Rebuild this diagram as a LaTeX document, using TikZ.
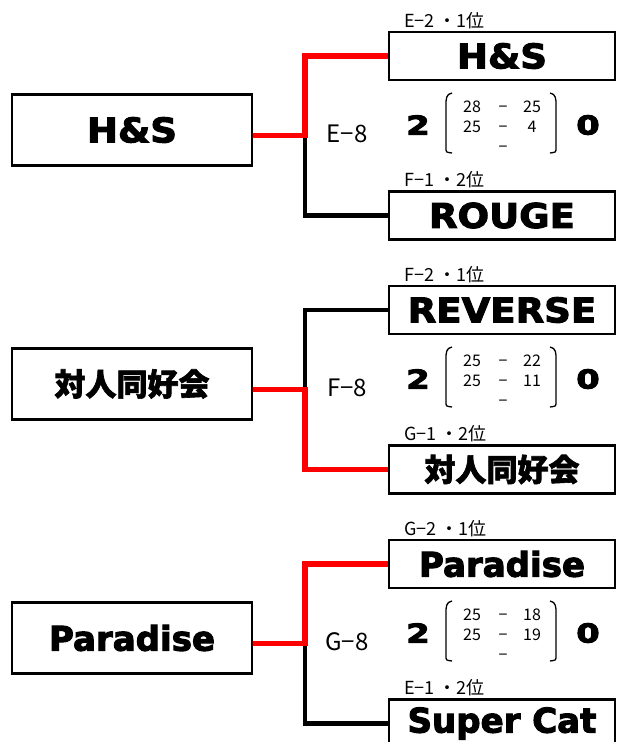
\documentclass[tikz,border=0pt]{standalone}
\usepackage{fontspec}
\setmainfont{Noto Sans CJK JP}
\newfontfamily\namefont[FakeBold=3]{DejaVu Sans Bold}
\newfontfamily\capsfont[FakeBold=3,FakeStretch=1.09]{DejaVu Sans Bold}
\newfontfamily\setfont[FakeBold=4,FakeStretch=1.3]{DejaVu Sans Bold}
\newfontfamily\jpfont[BoldFeatures={FakeBold=2}]{Noto Sans CJK JP}
\usetikzlibrary{calc}

\begin{document}
\begin{tikzpicture}[x=1pt,y=-1pt,
  team/.style={draw,line width=2.8pt,inner sep=0pt,font=\namefont\fontsize{34}{34}\selectfont},
  caps/.style={font=\capsfont\fontsize{34}{34}\selectfont},
  seed/.style={team,minimum width=240pt,minimum height=71pt},
  entry/.style={team,minimum width=226pt,minimum height=48pt},
  jpname/.style={font=\jpfont\bfseries\fontsize{31}{31}\selectfont},
  winline/.style={red,line width=5.5pt},
  loseline/.style={black,line width=4.5pt},
  tag/.style={anchor=base west,inner sep=0pt,font=\fontsize{18}{18}\selectfont},
  court/.style={font=\fontsize{24}{24}\selectfont},
  sets/.style={font=\setfont\fontsize{26}{26}\selectfont},
  rally/.style={anchor=base,inner sep=0pt,font=\fontsize{16}{16}\selectfont},
  paren/.style={line width=1.3pt}]
\useasboundingbox (0,0) rectangle (622,742);

\node[seed,caps] (hsL) at (132,130) {H\&S};
\node[entry,caps] (hsR) at (502,56) {H\&S};
\node[entry,caps] (rouge) at (502,215.5) {ROUGE};
\coordinate (jE) at (305,135.5);
\draw[loseline] (jE) |- (rouge.west);
\draw[winline] (hsL.east |- jE) -- (jE) |- (hsR.west);
\node[tag] (tE2) at (404,27) {E−2 ・1位};
\node[tag] (tF1) at (404,186) {F−1 ・2位};
\node[court] (cE8) at (347,134) {E−8};
\node[sets] (wE) at (418,125) {2};
\node[sets] (lE) at (588,125) {0};
\draw[paren] (452,93) .. controls (446,94) and (446,99) .. (446,105) -- (446,147) .. controls (446,153) and (446,152) .. (452,153);
\draw[paren] (550,93) .. controls (556,94) and (556,99) .. (556,105) -- (556,147) .. controls (556,153) and (556,152) .. (550,153);
\node[rally] (e1a) at (472,112) {28}; \node[rally] (e1m) at (503,112) {−}; \node[rally] (e1b) at (532,112) {25};
\node[rally] (e2a) at (472,132) {25}; \node[rally] (e2m) at (503,132) {−}; \node[rally] (e2b) at (532,132) {4};
\node[rally] (e3m) at (503,152) {−};

\node[seed,jpname] (taiL) at (132,384) {対人同好会};
\node[entry,caps] (rev) at (502,310) {REVERSE};
\node[entry,jpname] (taiR) at (502,469.5) {対人同好会};
\coordinate (jF) at (305,389.5);
\draw[loseline] (jF) |- (rev.west);
\draw[winline] (taiL.east |- jF) -- (jF) |- (taiR.west);
\node[tag] (tF2) at (404,281) {F−2 ・1位};
\node[tag] (tG1) at (404,440) {G−1 ・2位};
\node[court] (cF8) at (347,388) {F−8};
\node[sets] (wF) at (418,379) {2};
\node[sets] (lF) at (588,379) {0};
\draw[paren] (452,347) .. controls (446,348) and (446,353) .. (446,359) -- (446,401) .. controls (446,407) and (446,406) .. (452,407);
\draw[paren] (550,347) .. controls (556,348) and (556,353) .. (556,359) -- (556,401) .. controls (556,407) and (556,406) .. (550,407);
\node[rally] (f1a) at (472,366) {25}; \node[rally] (f1m) at (503,366) {−}; \node[rally] (f1b) at (532,366) {22};
\node[rally] (f2a) at (472,386) {25}; \node[rally] (f2m) at (503,386) {−}; \node[rally] (f2b) at (532,386) {11};
\node[rally] (f3m) at (503,406) {−};

\node[seed] (parL) at (132,638) {Paradise};
\node[entry] (parR) at (502,564) {Paradise};
\node[entry] (cat) at (502,723.5) {Super Cat};
\coordinate (jG) at (305,643.5);
\draw[loseline] (jG) |- (cat.west);
\draw[winline] (parL.east |- jG) -- (jG) |- (parR.west);
\node[tag] (tG2) at (404,535) {G−2 ・1位};
\node[tag] (tE1) at (404,694) {E−1 ・2位};
\node[court] (cG8) at (347,642) {G−8};
\node[sets] (wG) at (418,633) {2};
\node[sets] (lG) at (588,633) {0};
\draw[paren] (452,601) .. controls (446,602) and (446,607) .. (446,613) -- (446,655) .. controls (446,661) and (446,660) .. (452,661);
\draw[paren] (550,601) .. controls (556,602) and (556,607) .. (556,613) -- (556,655) .. controls (556,661) and (556,660) .. (550,661);
\node[rally] (g1a) at (472,620) {25}; \node[rally] (g1m) at (503,620) {−}; \node[rally] (g1b) at (532,620) {18};
\node[rally] (g2a) at (472,640) {25}; \node[rally] (g2m) at (503,640) {−}; \node[rally] (g2b) at (532,640) {19};
\node[rally] (g3m) at (503,660) {−};
\end{tikzpicture}
\end{document}
